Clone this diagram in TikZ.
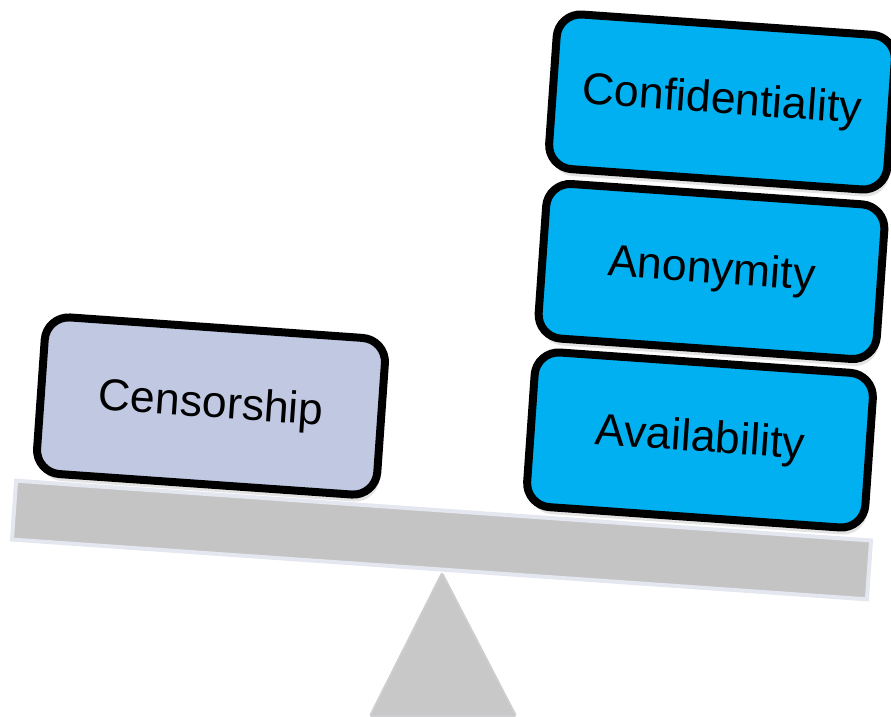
\documentclass[tikz,border=0pt]{standalone}
\usepackage{fontspec}
\setmainfont{Liberation Sans}
\usetikzlibrary{shadows}
\definecolor{beamgray}{HTML}{C4C4C4}
\definecolor{beamedge}{HTML}{E4E7EF}
\definecolor{pivotgray}{HTML}{C8C8C8}
\definecolor{pivotedge}{HTML}{CDCDD0}
\definecolor{boxcyan}{HTML}{00B0F0}
\definecolor{boxlav}{HTML}{C0C8E2}
\begin{document}
\begin{tikzpicture}[x=1bp,y=-1bp,
  block/.style={draw=black, line width=8bp, rounded corners=24bp, rotate=-4,
    minimum width=339bp, minimum height=155bp, inner sep=0pt,
    font=\fontsize{44.7}{50}\selectfont,
    drop shadow={shadow xshift=2bp, shadow yshift=-7bp, opacity=0.22}},
  beambar/.style={draw=beamedge, line width=4bp, fill=beamgray, rotate=-4,
    minimum width=857bp, minimum height=59bp, inner sep=0pt},
  pivot/.style={fill=pivotgray, draw=pivotedge, line width=2bp, rounded corners=2bp}]
\useasboundingbox (0,0) rectangle (891,717);
% fulcrum
\coordinate (apex) at (442,573);
\coordinate (baseL) at (370,716);
\coordinate (baseR) at (516,716);
\path[pivot] (apex) -- (baseR) -- (baseL) -- cycle;
% tilted beam
\node[beambar] (beam) at (441.5,540) {};
% weights
\node[block, fill=boxlav, minimum width=341bp, minimum height=157bp] (censor) at (211,406) {Censorship};
\node[block, fill=boxcyan] (avail) at (700,440) {Availability};
\node[block, fill=boxcyan] (anon) at (711.5,271.5) {Anonymity};
\node[block, fill=boxcyan] (conf) at (722,102) {Confidentiality};
\end{tikzpicture}
\end{document}
